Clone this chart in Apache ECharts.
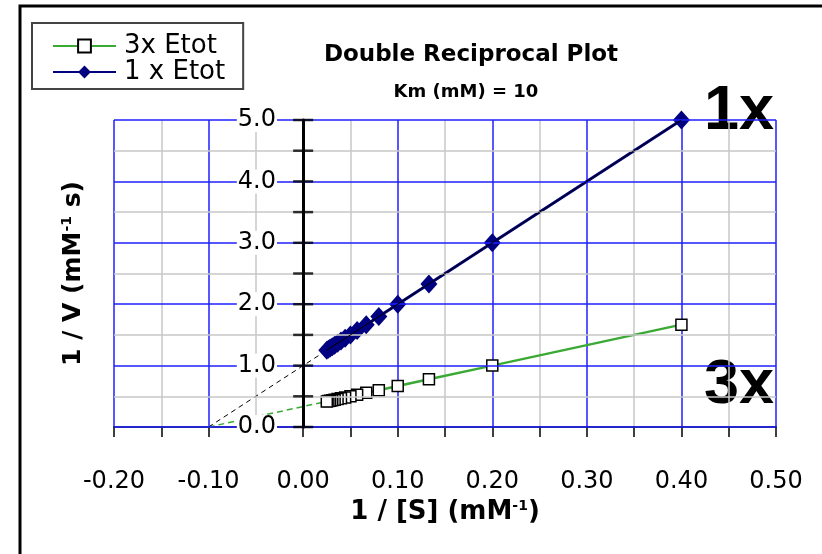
<!DOCTYPE html>
<html>
<head>
<meta charset="utf-8">
<style>html,body{margin:0;padding:0;background:#fff;}#c{width:822px;height:554px;}</style>
<script src="https://cdn.jsdelivr.net/npm/echarts@6/dist/echarts.min.js"></script>
</head>
<body>
<div id="c"></div>
<script>
// ---- data ----
const invS = [0.4, 0.2, 0.133, 0.1, 0.08, 0.0667, 0.0571, 0.05, 0.0444, 0.04, 0.0364, 0.0333, 0.0308, 0.0286, 0.0267, 0.025];
const invV_1x = [5.0, 3.0, 2.33, 2.0, 1.8, 1.667, 1.571, 1.5, 1.444, 1.4, 1.364, 1.333, 1.308, 1.286, 1.267, 1.25];
const invV_3x = [1.667, 1.0, 0.778, 0.667, 0.6, 0.556, 0.524, 0.5, 0.481, 0.467, 0.455, 0.444, 0.436, 0.429, 0.422, 0.417];
const extrapX = [-0.1, 0.025];
const extrap1x = [0, 1.25];
const extrap3x = [0, 0.417];
const seriesNames = ['3x Etot', '1 x Etot'];
const xTicks = { min: -0.2, max: 0.5, interval: 0.1 };
const yTicks = { min: 0, max: 5, interval: 1 };
const yTickMarks = [0, 0.5, 1, 1.5, 2, 2.5, 3, 3.5, 4, 4.5, 5];

const pairs = (xs, ys) => xs.map((x, i) => [x, ys[i]]);
const FONT = 'DejaVu Sans';
const NAVY = '#000080';
const GREEN = '#3aaa35';
const BLUE = '#1f1fff';
const GRAY = '#c8c8c8';

const chart = echarts.init(document.getElementById('c'), null, { renderer: 'canvas' });
chart.setOption({
  animation: false,
  backgroundColor: '#fff',
  title: [{
    text: 'Double Reciprocal Plot',
    left: 466, top: 39, textAlign: 'center',
    textStyle: { fontFamily: FONT, fontWeight: 'bold', fontSize: 23, color: '#000' }
  }, {
    text: 'Km (mM) = 10',
    left: 461, top: 78, textAlign: 'center',
    textStyle: { fontFamily: FONT, fontWeight: 'bold', fontSize: 18, color: '#000' }
  }],
  legend: {
    orient: 'vertical', left: 32, top: 23,
    data: seriesNames,
    padding: [10, 18, 4, 20],
    itemWidth: 63, itemHeight: 16, itemGap: 0,
    borderColor: '#444', borderWidth: 2,
    textStyle: { fontFamily: FONT, fontSize: 26, lineHeight: 25, color: '#000', padding: [0, 0, 0, 3] }
  },
  grid: { left: 114, right: 46, top: 120, bottom: 127, containLabel: false, outerBoundsMode: 'none' },
  xAxis: {
    type: 'value', min: xTicks.min, max: xTicks.max, interval: xTicks.interval,
    name: '1 / [S] (mM{sup|-1})', nameLocation: 'middle', nameGap: 70,
    nameTextStyle: { fontFamily: FONT, fontWeight: 'bold', fontSize: 26, color: '#000',
      rich: { sup: { fontFamily: FONT, fontWeight: 'bold', fontSize: 14, padding: [0, 0, 12, 0], color: '#000' } } },
    axisLine: { onZero: true, lineStyle: { color: '#000', width: 1.5 } },
    axisTick: { show: true, inside: false, length: 10, lineStyle: { color: '#000', width: 1.5 } },
    minorTick: { show: true, splitNumber: 2, length: 10, lineStyle: { color: '#000', width: 1.5 } },
    axisLabel: { fontFamily: FONT, fontSize: 24, color: '#000', margin: 43, formatter: v => v.toFixed(2) },
    splitLine: { show: true, lineStyle: { color: BLUE, width: 1.5 } },
    minorSplitLine: { show: true, lineStyle: { color: GRAY, width: 1.5 } }
  },
  yAxis: {
    type: 'value', min: yTicks.min, max: yTicks.max, interval: yTicks.interval,
    name: '1 / V (mM{sup|-1} s)', nameLocation: 'middle', nameRotate: 90, nameGap: 28,
    nameTextStyle: { fontFamily: FONT, fontWeight: 'bold', fontSize: 25, color: '#000',
      rich: { sup: { fontFamily: FONT, fontWeight: 'bold', fontSize: 14, padding: [0, 0, 12, 0], color: '#000' } } },
    axisLine: { onZero: true, lineStyle: { color: '#000', width: 3 } },
    axisTick: { show: false },
    minorTick: { show: false, splitNumber: 2 },
    axisLabel: { fontFamily: FONT, fontSize: 24, color: '#000', margin: -163,
      backgroundColor: '#fff', padding: [0, 1, 0, 1], formatter: v => v.toFixed(1) },
    splitLine: { show: true, lineStyle: { color: BLUE, width: 1.5 } },
    minorSplitLine: { show: true, lineStyle: { color: GRAY, width: 1.5 } },
    z: 5
  },
  series: [
    {
      name: '3x extrapolation', type: 'line', data: pairs(extrapX, extrap3x), symbol: 'none',
      lineStyle: { color: GREEN, width: 1.5, type: [6, 4] }, z: 3, silent: true
    },
    {
      name: '1x extrapolation', type: 'line', data: pairs(extrapX, extrap1x), symbol: 'none',
      lineStyle: { color: '#000', width: 1, type: [5, 4] }, z: 3, silent: true
    },
    {
      name: 'y ticks', type: 'scatter', data: yTickMarks.map(v => [0, v]),
      symbol: 'rect', symbolSize: [20, 2.5], itemStyle: { color: '#000' }, z: 7, silent: true
    },
    {
      name: seriesNames[0], type: 'line', data: pairs(invS, invV_3x),
      symbol: 'rect', symbolSize: 11,
      lineStyle: { color: GREEN, width: 2.5 },
      itemStyle: { color: '#fff', borderColor: '#000', borderWidth: 1.5 },
      color: GREEN, z: 4
    },
    {
      name: seriesNames[1], type: 'line', data: pairs(invS, invV_1x),
      symbol: 'diamond', symbolSize: [17, 19],
      lineStyle: { color: NAVY, width: 3 },
      itemStyle: { color: NAVY },
      color: NAVY, z: 4
    },
    {
      name: '1x fit', type: 'line', data: [[extrapX[1], extrap1x[1]], [invS[0], invV_1x[0]]], symbol: 'none',
      lineStyle: { color: '#000', width: 1 }, z: 6, silent: true
    }
  ],
  graphic: [
    { type: 'rect', shape: { x: 20, y: 6, width: 900, height: 700 }, style: { fill: 'none', stroke: '#000', lineWidth: 3 }, silent: true },
    { type: 'text', right: 48, top: 80, style: { text: '1x', fontFamily: 'Liberation Sans', fontWeight: 'bold', fontSize: 63, fill: '#000' } },
    { type: 'text', right: 48, top: 354, style: { text: '3x', fontFamily: 'Liberation Sans', fontWeight: 'bold', fontSize: 63, fill: '#000' } }
  ]
});
</script>
</body>
</html>
